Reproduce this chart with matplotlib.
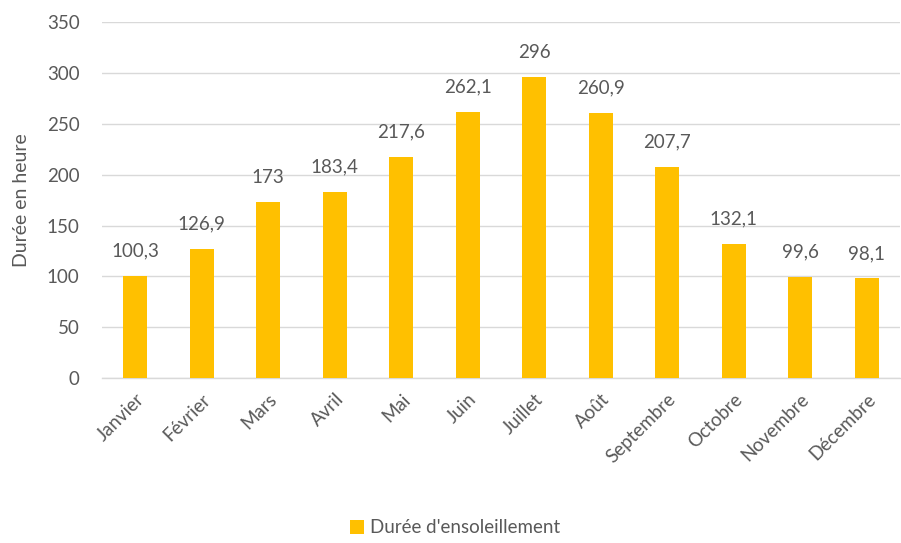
import matplotlib
matplotlib.use("Agg")
import matplotlib.pyplot as plt
from matplotlib.patches import Patch

months = ["Janvier", "Février", "Mars", "Avril", "Mai", "Juin", "Juillet",
          "Août", "Septembre", "Octobre", "Novembre", "Décembre"]
hours = [100.3, 126.9, 173, 183.4, 217.6, 262.1, 296, 260.9, 207.7, 132.1, 99.6, 98.1]
labels = ["100,3", "126,9", "173", "183,4", "217,6", "262,1", "296",
          "260,9", "207,7", "132,1", "99,6", "98,1"]
yticks = [0, 50, 100, 150, 200, 250, 300, 350]
series_name = "Durée d'ensoleillement"

plt.rcParams['font.family'] = ['Lato', 'DejaVu Sans']
gold = "#FFC000"
txt = "#595959"

fig = plt.figure(figsize=(9.01, 5.43), dpi=100)
ax = fig.add_axes([0.113, 0.304, 0.886, 0.655])

x = list(range(len(months)))
ax.bar(x, hours, width=0.36, color=gold, zorder=3)
for xi, h, lab in zip(x, hours, labels):
    ax.text(xi, h + 16, lab, ha="center", va="bottom", fontsize=13.5, color=txt)

ax.set_xlim(-0.5, len(months) - 0.5)
ax.set_ylim(0, 350)
ax.set_yticks(yticks)
ax.set_yticklabels([str(v) for v in yticks], fontsize=13.5, color=txt)
ax.set_xticks(x)
ax.set_xticklabels(months, rotation=45, ha="right", rotation_mode="anchor",
                   fontsize=13.5, color=txt)
ax.tick_params(axis="y", length=0, pad=16)
ax.tick_params(axis="x", length=0, pad=9)
ax.grid(axis="y", color="#D9D9D9", linewidth=1, zorder=0)
for s in ["top", "right", "left"]:
    ax.spines[s].set_visible(False)
ax.spines["bottom"].set_color("#D9D9D9")
ax.spines["bottom"].set_linewidth(1)
ax.set_ylabel("Durée en heure", fontsize=14, color=txt, labelpad=12)

handle = Patch(facecolor=gold, edgecolor="none")
fig.legend([handle], [series_name], loc="center", bbox_to_anchor=(0.505, 0.028),
           frameon=False, fontsize=13.5, labelcolor=txt, handlelength=0.75,
           handleheight=0.75, handletextpad=0.3)

fig.savefig("out.png", dpi=100)
